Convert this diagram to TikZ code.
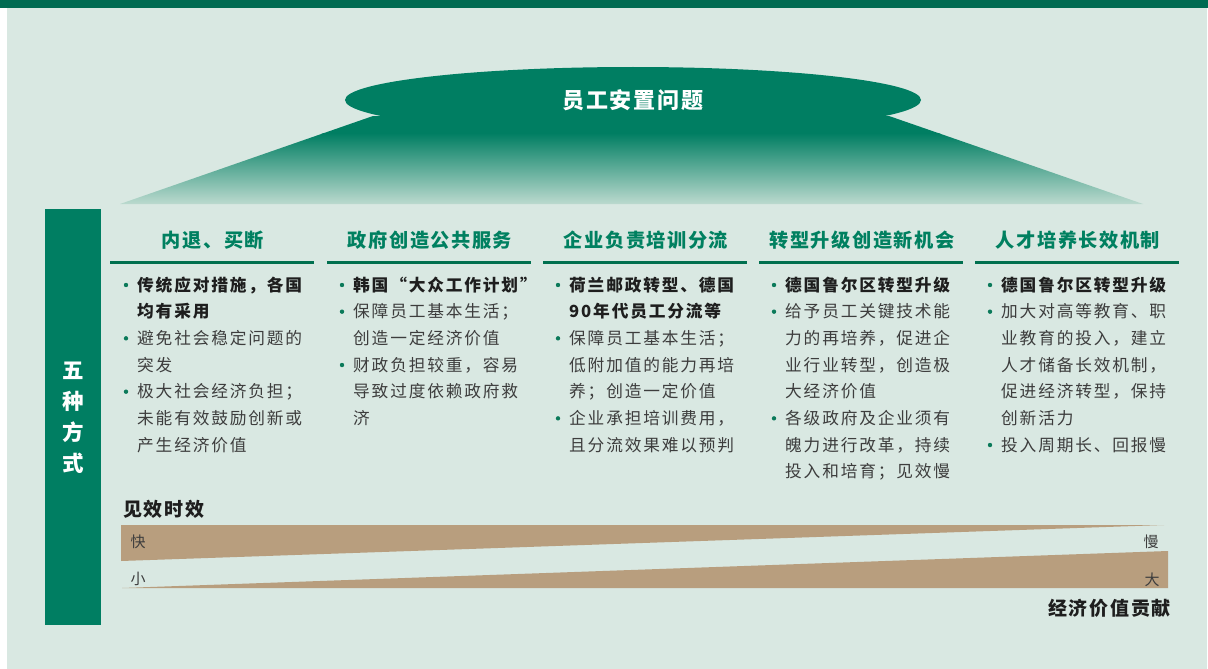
\documentclass[tikz,border=0pt]{standalone}
\usepackage{fontspec}
\setmainfont{Noto Sans CJK SC}
\newfontfamily\bodyf[LetterSpace=11]{Noto Sans CJK SC}
\newfontfamily\headf[LetterSpace=8]{Noto Sans CJK SC}
\newfontfamily\titlef[LetterSpace=9]{Noto Sans CJK SC}
\newfontfamily\axisf[LetterSpace=9]{Noto Sans CJK SC}
\newfontfamily\plainf{Noto Sans CJK SC}
\usetikzlibrary{calc,shapes.geometric}
\definecolor{bg}{HTML}{D9E8E2}
\definecolor{topbar}{HTML}{006B52}
\definecolor{dgreen}{HTML}{007E62}
\definecolor{headc}{HTML}{008060}
\definecolor{linec}{HTML}{00704F}
\definecolor{tan}{HTML}{B89E7E}
\definecolor{lightg}{HTML}{BEDBD0}
\definecolor{boldtxt}{HTML}{1E1E1E}
\definecolor{regtxt}{HTML}{3D3D3D}
\definecolor{bulletc}{HTML}{0B7A5A}
\tikzset{
  boldline/.style={inner sep=0pt, text=boldtxt, font={\fontsize{16.7}{20}\bodyf\bfseries}},
  regline/.style={inner sep=0pt, text=regtxt, font={\fontsize{16.7}{20}\bodyf}},
  headtext/.style={inner sep=0pt, text=headc, font={\fontsize{19.2}{22}\headf\bfseries}},
  headrule/.style={line width=3pt, draw=linec},
  axislabel/.style={inner sep=0pt, text=boldtxt, font={\fontsize{19}{22}\axisf\bfseries}},
  endlabel/.style={inner sep=0pt, text=regtxt, font={\fontsize{15}{18}\plainf}},
}
\newcommand\itemlines[5]{%
  \foreach \t [count=\i from 0] in {#5} {
    \node[#4, anchor=base west] (#1-\i) at (#2, {291+(#3+\i)*26.67}) {\t};
  }
  \fill[bulletc] ($(#1-0.base west)+(-11,-6)$) circle[radius=2.2pt];
}
\begin{document}
\begin{tikzpicture}[x=1pt,y=-1pt]
\useasboundingbox (0,0) rectangle (1208,669);
% background
\fill[white] (0,0) rectangle (1208,669);
\fill[bg] (7,0) rectangle (1207,669);
\fill[topbar] (0,0) rectangle (1208,8);
% trapezoid with gradient
\begin{scope}
  \clip (120,204) -- (373,116) -- (889,116) -- (1143,204) -- cycle;
  \fill[dgreen] (100,110) rectangle (1160,134);
  \shade[top color=dgreen, bottom color=lightg] (100,133) rectangle (1160,205);
\end{scope}
% title ellipse
\node[ellipse, fill=dgreen, minimum width=576pt, minimum height=66pt, inner sep=0pt,
      text=white, font={\fontsize{22}{24}\titlef\bfseries}] (title) at (633,100) {员工安置问题};
% left bar
\fill[dgreen] (45,209) rectangle (101,625);
\node[align=center, text=white, inner sep=0pt, font={\fontsize{21.5}{31}\plainf\bfseries}] (side) at (73,418) {五\\种\\方\\式};
% headers and rules
\node[headtext] (h1) at (213,240) {内退、买断};
\node[headtext] (h2) at (430,240) {政府创造公共服务};
\node[headtext] (h3) at (646,240) {企业负责培训分流};
\node[headtext] (h4) at (862,240) {转型升级创造新机会};
\node[headtext] (h5) at (1078,240) {人才培养长效机制};
\draw[headrule] (110,262) -- (314,262);
\draw[headrule] (327,262) -- (531,262);
\draw[headrule] (543,262) -- (747,262);
\draw[headrule] (759,262) -- (963,262);
\draw[headrule] (975,262) -- (1179,262);
% column 1
\itemlines{a1}{137}{0}{boldline}{传统应对措施，各国,均有采用}
\itemlines{a2}{137}{2}{regline}{避免社会稳定问题的,突发}
\itemlines{a3}{137}{4}{regline}{极大社会经济负担；,未能有效鼓励创新或,产生经济价值}
% column 2
\itemlines{b1}{353}{0}{boldline}{韩国“大众工作计划”}
\itemlines{b2}{353}{1}{regline}{保障员工基本生活；,创造一定经济价值}
\itemlines{b3}{353}{3}{regline}{财政负担较重，容易,导致过度依赖政府救,济}
% column 3
\itemlines{c1}{569}{0}{boldline}{荷兰邮政转型、德国,90年代员工分流等}
\itemlines{c2}{569}{2}{regline}{保障员工基本生活；,低附加值的能力再培,养；创造一定价值}
\itemlines{c3}{569}{5}{regline}{企业承担培训费用，,且分流效果难以预判}
% column 4
\itemlines{d1}{785}{0}{boldline}{德国鲁尔区转型升级}
\itemlines{d2}{785}{1}{regline}{给予员工关键技术能,力的再培养，促进企,业行业转型，创造极,大经济价值}
\itemlines{d3}{785}{5}{regline}{各级政府及企业须有,魄力进行改革，持续,投入和培育；见效慢}
% column 5
\itemlines{e1}{1001}{0}{boldline}{德国鲁尔区转型升级}
\itemlines{e2}{1001}{1}{regline}{加大对高等教育、职,业教育的投入，建立,人才储备长效机制，,促进经济转型，保持,创新活力}
\itemlines{e3}{1001}{6}{regline}{投入周期长、回报慢}
% bottom scales
\node[axislabel, anchor=west] (speed) at (123,509) {见效时效};
\fill[tan] (121,525) -- (1164,525) -- (121,561) -- cycle;
\fill[tan] (122,588) -- (1168,551) -- (1168,588) -- cycle;
\node[endlabel] (fast) at (138,542) {快};
\node[endlabel] (slow) at (1151,542) {慢};
\node[endlabel] (small) at (138,579) {小};
\node[endlabel] (big) at (1152,580) {大};
\node[axislabel, anchor=east] (value) at (1171,608) {经济价值贡献};
\end{tikzpicture}
\end{document}
